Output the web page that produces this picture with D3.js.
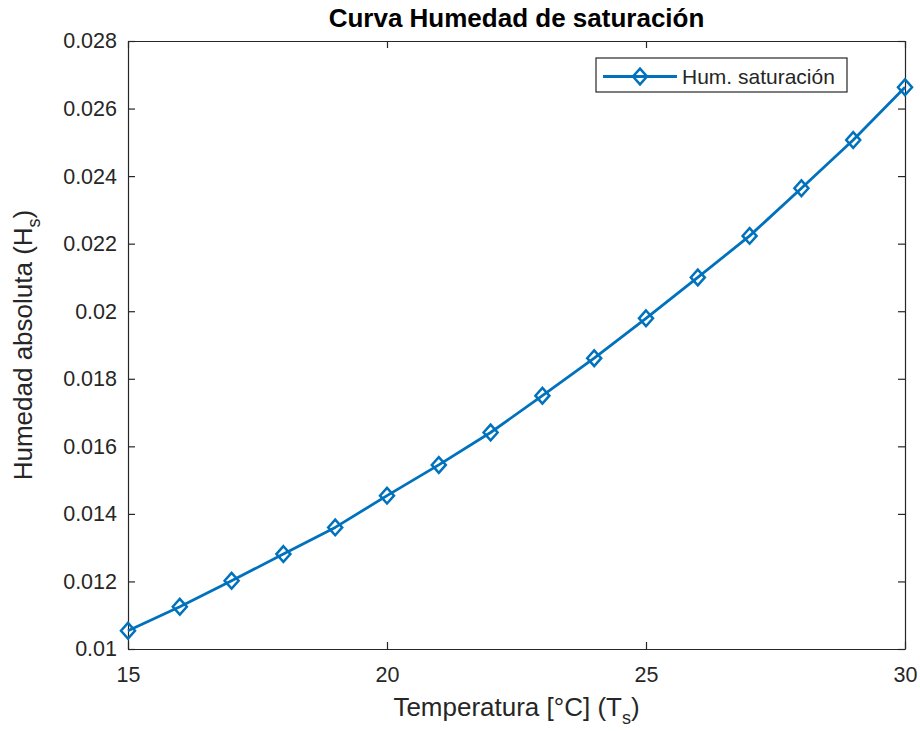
<!DOCTYPE html>
<html>
<head>
<meta charset="utf-8">
<script src="https://cdn.jsdelivr.net/npm/d3@7"></script>
<style>
  html, body { margin: 0; padding: 0; background: #fff; }
  svg { display: block; font-family: "Liberation Sans", Arial, Helvetica, sans-serif; }
</style>
</head>
<body>
<svg id="chart" width="920" height="731"></svg>
<script>
// Saturation humidity curve: temperature (°C) vs absolute humidity
const temperatures = [15, 16, 17, 18, 19, 20, 21, 22, 23, 24, 25, 26, 27, 28, 29, 30];
const humidity = [0.01054, 0.01125, 0.01202, 0.01281, 0.01360, 0.01454, 0.01545, 0.01641,
                  0.01750, 0.01861, 0.01979, 0.02100, 0.02223, 0.02364, 0.02507, 0.02663];
const xTicks = [15, 20, 25, 30];
const xTickLabels = ["15", "20", "25", "30"];
const yTicks = [0.010, 0.012, 0.014, 0.016, 0.018, 0.020, 0.022, 0.024, 0.026, 0.028];
const yTickLabels = ["0.01", "0.012", "0.014", "0.016", "0.018", "0.02", "0.022", "0.024", "0.026", "0.028"];
const seriesName = "Hum. saturación";
const titleText = "Curva Humedad de saturación";

const svg = d3.select("#chart");
const plot = { left: 128, right: 905, top: 41, bottom: 649 };
const axisColor = "#262626";
const lineColor = "#0072BD";
const tickLen = 7;

const x = d3.scaleLinear().domain([15, 30]).range([plot.left, plot.right]);
const y = d3.scaleLinear().domain([0.010, 0.028]).range([plot.bottom, plot.top]);

// Axes: bottom/left carry labels, top/right only inward ticks (box style)
const fmtX = (d) => xTickLabels[xTicks.indexOf(d)];
const fmtY = (d) => yTickLabels[yTicks.indexOf(d)];

function styleAxis(g) {
  g.selectAll("path.domain").attr("stroke", axisColor).attr("stroke-width", 1.2);
  g.selectAll(".tick line").attr("stroke", axisColor).attr("stroke-width", 1.2);
  g.selectAll(".tick text").attr("fill", axisColor).attr("font-size", 21.5)
    .attr("font-family", "'Liberation Sans', Arial, sans-serif");
}

svg.append("g").attr("transform", `translate(0,${plot.bottom})`)
  .call(d3.axisBottom(x).tickValues(xTicks).tickFormat(fmtX).tickSizeInner(-tickLen).tickSizeOuter(0).tickPadding(18))
  .call(styleAxis);
svg.append("g").attr("transform", `translate(0,${plot.top})`)
  .call(d3.axisTop(x).tickValues(xTicks).tickFormat("").tickSizeInner(-tickLen).tickSizeOuter(0))
  .call(styleAxis);
svg.append("g").attr("transform", `translate(${plot.left},0)`)
  .call(d3.axisLeft(y).tickValues(yTicks).tickFormat(fmtY).tickSizeInner(-tickLen).tickSizeOuter(0).tickPadding(11))
  .call(styleAxis);
svg.append("g").attr("transform", `translate(${plot.right},0)`)
  .call(d3.axisRight(y).tickValues(yTicks).tickFormat("").tickSizeInner(-tickLen).tickSizeOuter(0))
  .call(styleAxis);

// Data line
const data = temperatures.map((t, i) => ({ t, h: humidity[i] }));
const line = d3.line().x(d => x(d.t)).y(d => y(d.h));
svg.append("path").datum(data)
  .attr("d", line).attr("fill", "none")
  .attr("stroke", lineColor).attr("stroke-width", 2.8).attr("stroke-linejoin", "round");

// Diamond markers (hollow)
const diamond = (r) => `M0,${-r * 1.12}L${r},0L0,${r * 1.12}L${-r},0Z`;
svg.append("g").selectAll("path").data(data).join("path")
  .attr("transform", d => `translate(${x(d.t)},${y(d.h)})`)
  .attr("d", diamond(7))
  .attr("fill", "none").attr("stroke", lineColor).attr("stroke-width", 2.5);

// Title
svg.append("text")
  .attr("x", (plot.left + plot.right) / 2).attr("y", 27)
  .attr("text-anchor", "middle").attr("font-size", 26).attr("font-weight", "bold")
  .attr("fill", "#000").text(titleText);

// X axis label with subscript
const xl = svg.append("text")
  .attr("x", (plot.left + plot.right) / 2).attr("y", 716)
  .attr("text-anchor", "middle").attr("font-size", 26).attr("fill", axisColor);
xl.append("tspan").text("Temperatura [°C] (T");
xl.append("tspan").attr("font-size", 18).attr("dy", 8).text("s");
xl.append("tspan").attr("dy", -8).text(")");

// Y axis label with subscript
const yl = svg.append("text")
  .attr("transform", `translate(32,${(plot.top + plot.bottom) / 2}) rotate(-90)`)
  .attr("text-anchor", "middle").attr("font-size", 26).attr("fill", axisColor);
yl.append("tspan").text("Humedad absoluta (H");
yl.append("tspan").attr("font-size", 18).attr("dy", 8).text("s");
yl.append("tspan").attr("dy", -8).text(")");

// Legend
const legend = svg.append("g");
legend.append("rect")
  .attr("x", 596).attr("y", 58).attr("width", 251).attr("height", 34)
  .attr("fill", "#fff").attr("stroke", axisColor).attr("stroke-width", 1.2);
legend.append("line")
  .attr("x1", 603).attr("x2", 677).attr("y1", 76.5).attr("y2", 76.5)
  .attr("stroke", lineColor).attr("stroke-width", 2.8);
legend.append("path")
  .attr("transform", "translate(640,76.5)").attr("d", diamond(7))
  .attr("fill", "none").attr("stroke", lineColor).attr("stroke-width", 2.5);
legend.append("text")
  .attr("x", 682).attr("y", 83.5).attr("font-size", 21).attr("fill", axisColor)
  .text(seriesName);
</script>
</body>
</html>
